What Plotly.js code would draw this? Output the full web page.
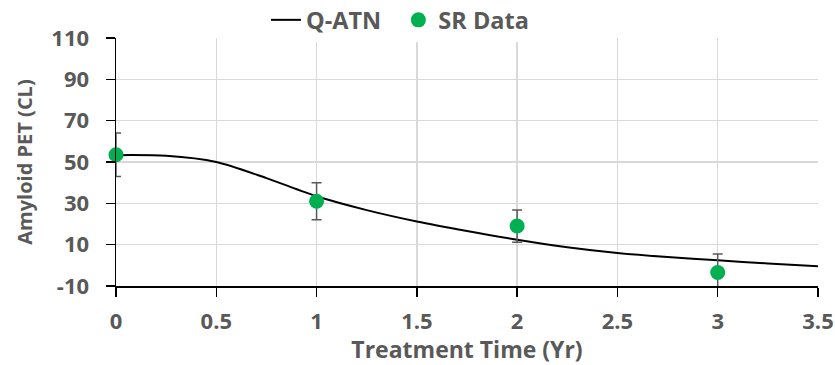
<!DOCTYPE html>
<html><head><meta charset="utf-8">
<script src="https://cdn.plot.ly/plotly-3.0.1.min.js"></script>
<style>html,body{margin:0;padding:0;background:#fff}#chart{width:835px;height:365px}</style>
</head><body><div id="chart"></div>
<script>
// Q-ATN model curve
const curveX = [0, 0.25, 0.5, 0.75, 1, 1.25, 1.5, 1.75, 2, 2.25, 2.5, 2.75, 3, 3.25, 3.5];
const curveY = [53.3, 53, 50, 42.2, 33.4, 26.7, 21.2, 16.6, 12.4, 8.8, 6, 4, 2.4, 0.9, -0.5];
// SR data
const dataX = [0, 1, 2, 3];
const dataY = [53.5, 31, 19, -3.5];
const dataErr = [10.5, 9, 7.8, 9];
const xTicks = [0, 0.5, 1, 1.5, 2, 2.5, 3, 3.5];
const xTickText = ['0', '0.5', '1', '1.5', '2', '2.5', '3', '3.5'];
const yTicks = [-10, 10, 30, 50, 70, 90, 110];
const yTickText = ['-10', '10', '30', '50', '70', '90', '110'];
const seriesNames = ['Q-ATN\u00a0\u00a0', 'SR Data'];

const FONT = 'Open Sans, sans-serif';
const GREY = '#595959';
const F = (s) => ({family: FONT, size: s, color: GREY, weight: 'bold'});

const traces = [
  {x: curveX, y: curveY, type: 'scatter', mode: 'lines', name: seriesNames[0],
   line: {color: '#000', width: 2, shape: 'spline', smoothing: 0.8}},
  {x: dataX, y: dataY, type: 'scatter', mode: 'markers', name: seriesNames[1],
   marker: {color: '#00b050', size: 15},
   error_y: {type: 'data', array: dataErr, visible: true, color: GREY, thickness: 1.5, width: 5},
   cliponaxis: false}
];

const layout = {
  width: 835, height: 365,
  margin: {l: 116, r: 17, t: 38, b: 79, autoexpand: false},
  paper_bgcolor: '#fff', plot_bgcolor: '#fff',
  font: F(21),
  showlegend: true,
  legend: {orientation: 'h', x: 0.479, xanchor: 'center', xref: 'container', y: 0.945, yanchor: 'middle', yref: 'container',
           font: F(23.5), itemwidth: 30, tracegroupgap: 0},
  xaxis: {range: [0, 3.5], tickvals: xTicks, ticktext: xTickText, showgrid: true, gridcolor: '#d9d9d9', gridwidth: 1.5,
          zeroline: false, showline: true, linecolor: '#000', linewidth: 1.5, ticks: 'outside', ticklen: 9, tickcolor: '#000', tickwidth: 1.5,
          tickfont: F(22), ticklabelstandoff: 6,
          title: {text: 'Treatment Time (Yr)', font: F(23), standoff: 0}},
  yaxis: {range: [-10, 110], tickvals: yTicks, ticktext: yTickText, showgrid: true, gridcolor: '#d9d9d9', gridwidth: 1.5,
          zeroline: false, showline: true, linecolor: '#000', linewidth: 1.5, ticks: 'outside', ticklen: 9, tickcolor: '#000', tickwidth: 1.5,
          tickfont: F(22), ticklabelstandoff: 12,
          title: {text: 'Amyloid PET (CL)', font: F(20), standoff: 13}}
};
Plotly.newPlot('chart', traces, layout, {displayModeBar: false, staticPlot: true});
</script></body></html>
